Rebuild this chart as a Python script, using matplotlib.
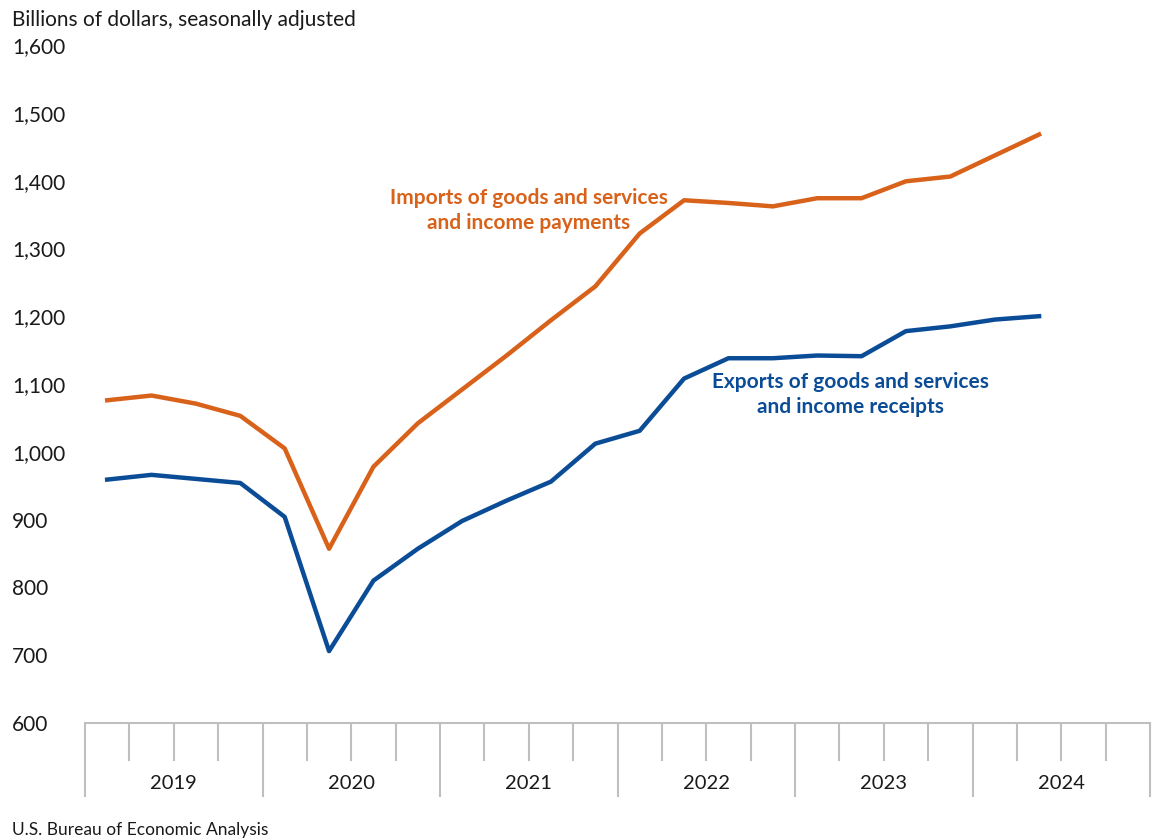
import numpy as np
import matplotlib.pyplot as plt
import matplotlib.transforms as mtransforms

years = ['2019', '2020', '2021', '2022', '2023', '2024']

# quarterly values, 2019Q1 .. 2024Q2
imports = [1076, 1083, 1071, 1053, 1005, 857, 978, 1042, 1092, 1142, 1194, 1244,
           1322, 1371, 1367, 1362, 1374, 1374, 1399, 1406, 1437, 1468]
exports = [959, 966, 960, 954, 904, 706, 810, 857, 898, 928, 956, 1012,
           1031, 1108, 1138, 1138, 1142, 1141, 1178, 1185, 1195, 1200]

yticks = [600, 700, 800, 900, 1000, 1100, 1200, 1300, 1400, 1500, 1600]

ORANGE = '#D9621B'
BLUE = '#0B4C97'
GRAY = '#BFBFBF'
TEXT = '#1A1A1A'

plt.rcParams['font.family'] = ['Lato', 'DejaVu Sans']

fig = plt.figure(figsize=(11.53, 8.38), dpi=100)
ax = fig.add_axes([85 / 1153, 1 - 723 / 838, 1065 / 1153, 678 / 838])

x = np.arange(len(imports))
ax.plot(x, imports, color=ORANGE, linewidth=3.2, solid_joinstyle='round')
ax.plot(x, exports, color=BLUE, linewidth=3.2, solid_joinstyle='round')

n_quarters = len(years) * 4
ax.set_xlim(-0.5, n_quarters - 0.5)
ax.set_ylim(600, 1600)

# y axis: left aligned labels, no ticks
ax.set_yticks(yticks)
ax.set_yticklabels(['{:,}'.format(v) for v in yticks])
ax.tick_params(axis='y', length=0, pad=52.5, labelsize=15, labelcolor=TEXT)
for lab in ax.get_yticklabels():
    lab.set_horizontalalignment('left')

# x axis: long ticks at year boundaries, short ticks at quarter boundaries
bounds = np.arange(-0.5, n_quarters, 1.0)
ax.set_xticks(bounds[::4])
ax.set_xticks([b for i, b in enumerate(bounds) if i % 4 != 0], minor=True)
ax.set_xticklabels([])
ax.tick_params(axis='x', which='major', length=53, width=1.5, color=GRAY, direction='out')
ax.tick_params(axis='x', which='minor', length=27, width=1.5, color=GRAY, direction='out')

for s in ['top', 'right', 'left']:
    ax.spines[s].set_visible(False)
ax.spines['bottom'].set_color(GRAY)
ax.spines['bottom'].set_linewidth(1.5)

trans = mtransforms.blended_transform_factory(ax.transData, ax.transAxes)
for i, yr in enumerate(years):
    ax.text(i * 4 + 1.5, -0.0885, yr, transform=trans, ha='center', va='center',
            fontsize=14.5, color=TEXT)

ax.text(9.5, 1356, 'Imports of goods and services\nand income payments', color=ORANGE,
        fontsize=15, fontweight='bold', ha='center', va='center', linespacing=1.3)
ax.text(16.75, 1085, 'Exports of goods and services\nand income receipts', color=BLUE,
        fontsize=15, fontweight='bold', ha='center', va='center', linespacing=1.3)

fig.text(12 / 1153, 1 - 20 / 838, 'Billions of dollars, seasonally adjusted',
         fontsize=15, color=TEXT, ha='left', va='center')
fig.text(12 / 1153, 1 - 830 / 838, 'U.S. Bureau of Economic Analysis',
         fontsize=12.5, color=TEXT, ha='left', va='center')

fig.savefig('out.png', dpi=100, facecolor='white')
